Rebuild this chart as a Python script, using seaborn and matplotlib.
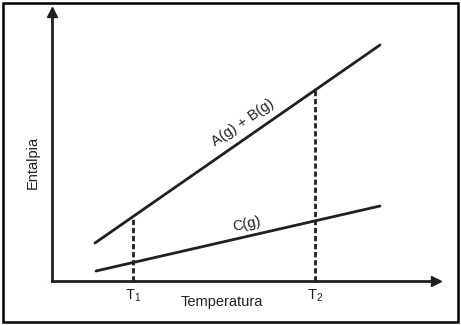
import matplotlib
matplotlib.use("Agg")
import matplotlib.pyplot as plt
import seaborn as sns
from matplotlib.patches import Rectangle

sns.set_theme(style="white")
plt.rcParams['font.family'] = ['Liberation Sans', 'DejaVu Sans']
plt.rcParams['mathtext.fontset'] = 'custom'
plt.rcParams['mathtext.rm'] = 'Liberation Sans'
plt.rcParams['mathtext.it'] = 'Liberation Sans'

# Enthalpy vs. temperature (arbitrary units)
temp_ab = [43, 328]
enth_ab = [38, 236]
temp_c = [44, 328]
enth_c = [10, 75]
t_marks = [81, 263]
t_labels = ["T$_1$", "T$_2$"]
series_labels = ["A(g) + B(g)", "C(g)"]

def interp(x, xs, ys):
    return ys[0] + (ys[1] - ys[0]) * (x - xs[0]) / (xs[1] - xs[0])

W, H = 461, 325
fig = plt.figure(figsize=(W / 100, H / 100), dpi=100)
ax = fig.add_axes([52 / W, (H - 281) / H, (436 - 52) / W, (281 - 12) / H])

ink = "#231f20"
sns.lineplot(x=temp_ab, y=enth_ab, ax=ax, color=ink, lw=2.0)
sns.lineplot(x=temp_c, y=enth_c, ax=ax, color=ink, lw=2.0)

for t in t_marks:
    ax.plot([t, t], [0, interp(t, temp_ab, enth_ab)], color=ink, lw=2.0,
            ls=(0, (1.9, 1.0)))

ax.set_xlim(0, 384)
ax.set_ylim(0, 269)
ax.set_xticks(t_marks)
ax.set_xticklabels(t_labels, fontsize=10.5)
ax.tick_params(axis='x', length=0, pad=5, colors=ink)
ax.set_yticks([])
ax.set_xlabel("Temperatura", fontsize=10.5, color=ink)
ax.xaxis.set_label_coords((222 - 52) / (436 - 52), -(302 - 281) / (281 - 12))
ax.xaxis.label.set_va('center')
ax.set_ylabel("Entalpia", fontsize=10.5, color=ink)
ax.yaxis.set_label_coords(-(52 - 33) / (436 - 52), (281 - 162) / (281 - 12))
ax.yaxis.label.set_va('center')

for side in ("top", "right"):
    ax.spines[side].set_visible(False)
for side in ("left", "bottom"):
    ax.spines[side].set_color(ink)
    ax.spines[side].set_linewidth(2.0)

# arrow heads on both axes
ax.plot(1, 0, marker=">", ms=7, color=ink, transform=ax.transAxes, clip_on=False)
ax.plot(0, 1, marker="^", ms=7, color=ink, transform=ax.transAxes, clip_on=False)

ax.text(195, 152, series_labels[0], fontsize=10.5, color=ink, rotation=34.5,
        rotation_mode='anchor', ha='center', va='bottom')
ax.text(196, 50, series_labels[1], fontsize=10.5, color=ink, rotation=12,
        rotation_mode='anchor', ha='center', va='bottom')

fig.patches.append(Rectangle((2.5 / W, 3 / H), (458 - 2.5) / W, (322 - 3) / H,
                             transform=fig.transFigure, fill=False,
                             edgecolor="black", lw=1.8))

fig.savefig("out.png", dpi=100)
